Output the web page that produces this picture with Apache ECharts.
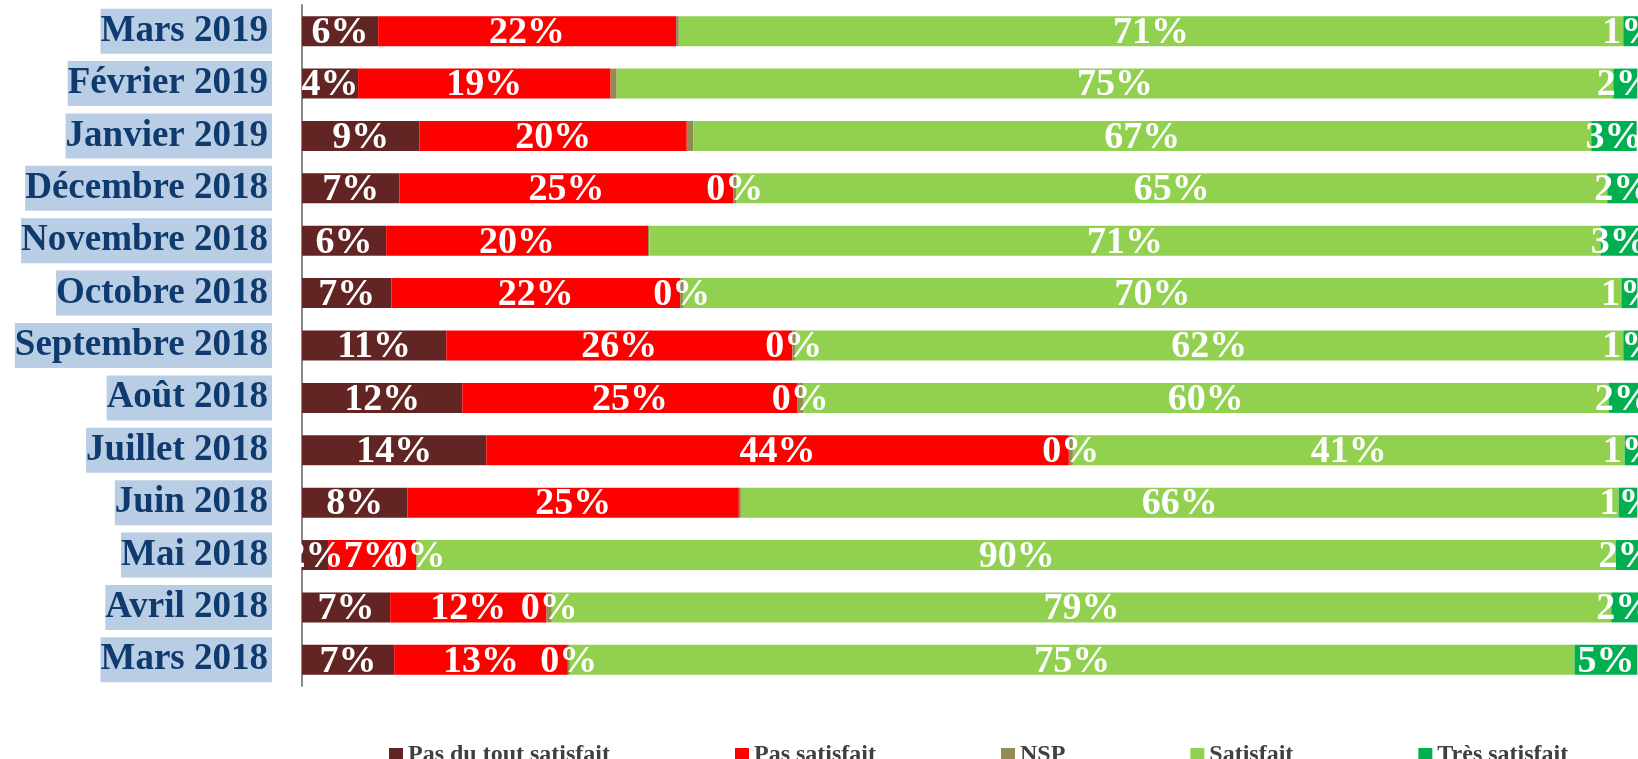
<!DOCTYPE html>
<html>
<head>
<meta charset="utf-8">
<script src="https://cdn.jsdelivr.net/npm/echarts@6/dist/echarts.min.js"></script>
<style>
html,body{margin:0;padding:0;background:#fff;}
#chart{width:1638px;height:759px;}
</style>
</head>
<body>
<div id="chart"></div>
<script>
const categories = ['Mars 2019','Février 2019','Janvier 2019','Décembre 2018','Novembre 2018','Octobre 2018','Septembre 2018','Août 2018','Juillet 2018','Juin 2018','Mai 2018','Avril 2018','Mars 2018'];
const seriesNames = ['Pas du tout satisfait','Pas satisfait','NSP','Satisfait','Très satisfait'];
const pasDuToutSatisfait = [5.7,4.2,8.8,7.3,6.3,6.7,10.8,12.0,13.8,7.9,1.95,6.6,6.9];
const pasSatisfait = [22.3,18.9,20.0,25.0,19.6,21.6,25.9,25.1,43.6,24.8,6.6,11.7,13.0];
const nsp = [0.2,0.45,0.5,0.2,0.1,0.26,0.2,0.4,0.3,0.15,0.1,0.4,0.15];
const satisfait = [70.7,74.6,67.2,65.2,71.2,70.2,62.0,60.3,41.3,65.7,89.7,79.3,75.2];
const tresSatisfait = [1.2,1.8,3.4,2.3,2.8,1.2,1.2,2.2,1.0,1.4,1.8,2.0,4.7];
const nspLabelShown = [false,false,false,true,false,true,true,true,true,false,true,true,true];

const colors = ['#632523','#FF0000','#948A54','#92D050','#00B050'];
const FONT = "'Liberation Serif','Times New Roman',serif";

const chart = echarts.init(document.getElementById('chart'));
const labelStyle = {
  show: true,
  position: 'inside',
  color: '#FFFFFF',
  fontFamily: FONT,
  fontWeight: 'bold',
  fontSize: 38,
  offset: [0, 2],
  formatter: p => Math.round(p.value) + '%'
};
const values = [pasDuToutSatisfait, pasSatisfait, nsp, satisfait, tresSatisfait];
const series = values.map((arr, k) => ({
  name: seriesNames[k],
  type: 'bar',
  stack: 'total',
  barWidth: 30,
  itemStyle: { color: colors[k] },
  label: labelStyle,
  data: k === 2 ? arr.map((v, i) => ({ value: v, label: { show: nspLabelShown[i] } })) : arr
}));

chart.setOption({
  animation: false,
  grid: { left: 302, right: 0, top: 5, bottom: 73, outerBoundsMode: 'none' },
  xAxis: { type: 'value', min: 0, max: 100, show: false },
  yAxis: {
    type: 'category',
    data: categories,
    inverse: true,
    axisTick: { show: false },
    axisLine: { show: true, lineStyle: { color: '#898989', width: 2 } },
    axisLabel: {
      margin: 30,
      color: '#0E3A6E',
      fontFamily: FONT,
      fontWeight: 'bold',
      fontSize: 37,
      lineHeight: 45,
      backgroundColor: '#B9CDE5',
      padding: [0, 4, 0, 0]
    }
  },
  legend: {
    data: seriesNames,
    left: 384,
    top: 738,
    icon: 'rect',
    itemWidth: 14,
    itemHeight: 14,
    itemGap: 125,
    textStyle: { fontFamily: FONT, fontWeight: 'bold', fontSize: 24, color: '#404040' }
  },
  series: series
});
</script>
</body>
</html>
